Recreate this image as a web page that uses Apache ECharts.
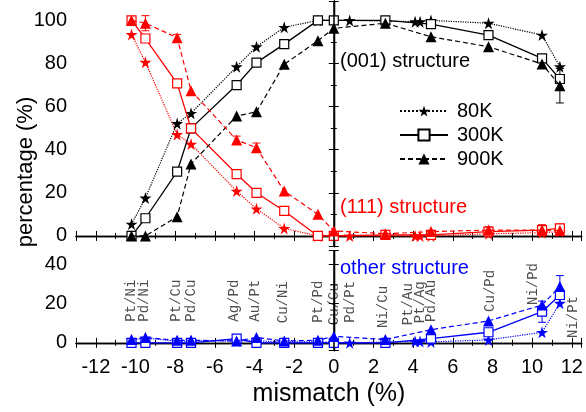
<!DOCTYPE html>
<html><head><meta charset="utf-8">
<script src="https://cdn.jsdelivr.net/npm/echarts@6/dist/echarts.min.js"></script>
<style>html,body{margin:0;padding:0;background:#fff}#c{width:586px;height:412px}</style>
</head><body><div id="c"></div>
<script>
// ---- data ----
const pairs    = ['Pt/Ni','Pd/Ni','Pt/Cu','Pd/Cu','Ag/Pd','Au/Pt','Cu/Ni','Pt/Pd','Cu/Cu','Pd/Pt','Ni/Cu','Pt/Au','Pt/Ag','Pd/Au','Cu/Pd','Ni/Pd','Ni/Pt'];
const mismatch = [-10.2,-9.5,-7.9,-7.2,-4.9,-3.9,-2.5,-0.8,0,0.8,2.6,4.1,4.35,4.9,7.8,10.5,11.4];

const s001_80K  = [5.5,17.6,52.2,56.9,78.5,87.8,96.8,100,null,100,null,99.4,99.4,100,98.7,93.2,78.5];
const s001_300K = [0,8.2,29.8,49.9,70,80.4,89,100,100,null,100,null,null,98.3,93.2,82.4,72.8];
const s001_900K = [0,0,8.9,33.4,55.6,57.6,79.6,90.6,96.3,null,98.7,null,null,92.4,87.8,79.8,69.7];

const s111_80K  = [93.5,80.6,47.1,42.6,20.8,12.6,3.5,0,null,0,null,0,0,0,1,1.5,2];
const s111_300K = [100,91.6,70.8,49.9,28.7,20,11.6,0,0,null,0.5,null,null,0.5,2,2.7,3.5];
const s111_900K = [100,98.7,92,67.4,44.5,40.9,20.8,10,2.3,null,1,null,null,2,2.7,2.7,2.5];

const sOther_80K  = [1.5,2.5,0.8,1,1,1,0.5,0.5,null,0,null,0.7,0.7,0.5,1.5,5.4,20.2];
const sOther_300K = [0,0,0,0,2.2,0,0,0,0,null,0,null,null,2.2,5.4,15.9,24.4];
const sOther_900K = [1.7,2.7,1.3,1.3,1,2.7,1,1.3,3.3,null,1.7,null,null,6.7,11.2,19.3,28.7];

// pair labels in lower panel (x in mismatch units, base in percentage units)
const labelX    = [-10.2,-9.55,-7.95,-7.2,-5.0,-3.95,-2.55,-0.8,0,0.82,2.48,3.76,4.35,4.93,7.88,10.06,12.06];
const labelBase = [10.8,10.8,10.8,10.8,10.8,10.8,10,10.3,9,10.2,7.6,9,10,10.7,15.8,19.3,2.5];

// error bars [x, value, error]
const errTopBlack = [[11.4,69.7,8]];
const errTopRed   = [[-9.5,98.7,3.5],[-7.9,92,1.5],[-4.9,44.5,1.8],[-3.9,40.9,2.2],[7.8,2.7,1.5],[10.5,2.7,2.5],[11.4,3.5,2]];
const errBotBlue  = [[10.5,15.9,5.4],[11.4,28.7,5.6]];

// ---- chart ----
const STAR = 'path://M50,0 L61,35 L98,35 L68,57 L79,91 L50,70 L21,91 L32,57 L2,35 L39,35 Z';
const FONT = 'Liberation Sans';

function pts(vals){ const d=[]; vals.forEach((v,i)=>{ if(v!=null) d.push([mismatch[i],v]); }); return d; }

function mk(name, vals, color, kind, gi){
  const base = {name, type:'line', xAxisIndex: gi*2, yAxisIndex: gi*2, data: pts(vals), z: 3, animation:false};
  if(kind==='80K') Object.assign(base,{symbol:STAR, symbolSize:12, lineStyle:{color, width:1.2, type:'dotted'}, itemStyle:{color, borderWidth:0}});
  if(kind==='300K') Object.assign(base,{symbol:'rect', symbolSize:9, lineStyle:{color, width:1.3, type:'solid'}, itemStyle:{color:'#fff', borderColor:color, borderWidth:1.2}, z:4});
  if(kind==='900K') Object.assign(base,{symbol:'triangle', symbolSize:11, lineStyle:{color, width:1.2, type:[5,3]}, itemStyle:{color, borderWidth:0}, z:5});
  return base;
}

function errSeries(data, color, gi){
  return {type:'custom', xAxisIndex: gi*2, yAxisIndex: gi*2, data, z:2, animation:false,
    renderItem(params, api){
      const x=api.value(0), y=api.value(1), e=api.value(2);
      const hi=api.coord([x,y+e]), lo=api.coord([x,y-e]); const w=4;
      const st={stroke:color, lineWidth:1};
      return {type:'group', children:[
        {type:'line', shape:{x1:hi[0],y1:hi[1],x2:lo[0],y2:lo[1]}, style:st},
        {type:'line', shape:{x1:hi[0]-w,y1:hi[1],x2:hi[0]+w,y2:hi[1]}, style:st},
        {type:'line', shape:{x1:lo[0]-w,y1:lo[1],x2:lo[0]+w,y2:lo[1]}, style:st}
      ]};
    }};
}

const axLine = {lineStyle:{color:'#000', width:1.3}};
function xAx(gi, pos, labels){
  return {type:'value', gridIndex:gi, position:pos, min:-13, max:12.5, splitNumber:12, minInterval:2, maxInterval:2,
    axisLine:axLine, axisTick:{inside:true, length:5, lineStyle:{color:'#000', width:1}},
    minorTick:{show:true, splitNumber:2, length:3, lineStyle:{color:'#000', width:1}},
    splitLine:{show:false},
    axisLabel:{show:labels, showMinLabel:false, showMaxLabel:false, fontSize:20, color:'#000', fontFamily:FONT, margin:7}};
}
function yAx(gi, pos, labels, min, max){
  return {type:'value', gridIndex:gi, position:pos, min, max, minInterval:20, maxInterval:20,
    axisLine:{show:true, ...axLine}, axisTick:{show:true, inside:true, length:5, lineStyle:{color:'#000', width:1}},
    minorTick:{show:true, splitNumber:2, length:3, lineStyle:{color:'#000', width:1}},
    splitLine:{show:false},
    axisLabel:{show:labels, showMinLabel:false, showMaxLabel:false, fontSize:20, color:'#000', fontFamily:FONT, margin:9}};
}

const vline = {silent:true, symbol:'none', label:{show:false}, data:[{xAxis:0}], lineStyle:{color:'#000', type:'solid', width:1.5}, animation:false};

const series = [
  mk('80K', s001_80K, '#000', '80K', 0),
  mk('300K', s001_300K, '#000', '300K', 0),
  mk('900K', s001_900K, '#000', '900K', 0),
  mk('r80', s111_80K, '#ff0000', '80K', 0),
  mk('r300', s111_300K, '#ff0000', '300K', 0),
  mk('r900', s111_900K, '#ff0000', '900K', 0),
  mk('b80', sOther_80K, '#0000ff', '80K', 1),
  mk('b300', sOther_300K, '#0000ff', '300K', 1),
  mk('b900', sOther_900K, '#0000ff', '900K', 1),
  errSeries(errTopBlack, '#000', 0),
  errSeries(errTopRed, '#ff0000', 0),
  errSeries(errBotBlue, '#0000ff', 1),
  {type:'scatter', xAxisIndex:2, yAxisIndex:2, symbolSize:0, silent:true, animation:false, z:1,
   data: pairs.map((p,i)=>({value:[labelX[i], labelBase[i]], name:p})),
   label:{show:true, formatter:'{b}', rotate:90, position:'inside', align:'left', verticalAlign:'middle',
          fontFamily:'Liberation Mono', fontSize:14, color:'#222'}}
];
series[1].markLine = vline;
series[7].markLine = vline;

const chart = echarts.init(document.getElementById('c'), null, {renderer:'canvas'});
chart.setOption({
  animation:false,
  backgroundColor:'#fff',
  grid:[{left:76, top:1, width:505.7, height:245.7}, {left:76, top:250.7, width:505.7, height:100}],
  xAxis:[xAx(0,'bottom',false), xAx(0,'top',false), xAx(1,'bottom',true), xAx(1,'top',false)],
  yAxis:[yAx(0,'left',true,-5,109), yAx(0,'right',false,-5,109), yAx(1,'left',true,-4,47), yAx(1,'right',false,-4,47)],
  legend:{data:['80K','300K','900K'], orient:'vertical', left:394, top:96, itemWidth:48, itemHeight:14, itemGap:4,
    textStyle:{fontSize:20, color:'#000', fontFamily:FONT, padding:[0,0,0,4]}, selectedMode:false},
  series,
  graphic:[
    {type:'text', x:340, y:61, style:{text:'(001) structure', font:'20px "Liberation Sans"', fill:'#000', verticalAlign:'middle'}},
    {type:'text', x:340, y:207, style:{text:'(111) structure', font:'20px "Liberation Sans"', fill:'#ff0000', verticalAlign:'middle'}},
    {type:'text', x:340, y:268, style:{text:'other structure', font:'20px "Liberation Sans"', fill:'#0000ff', verticalAlign:'middle'}},
    {type:'text', x:26, y:172, rotation:Math.PI/2, style:{text:'percentage (%)', font:'22px "Liberation Sans"', fill:'#000', align:'center', verticalAlign:'middle'}},
    {type:'text', x:329, y:394, style:{text:'mismatch (%)', font:'25px "Liberation Sans"', fill:'#000', align:'center', verticalAlign:'middle'}}
  ]
});
</script></body></html>
